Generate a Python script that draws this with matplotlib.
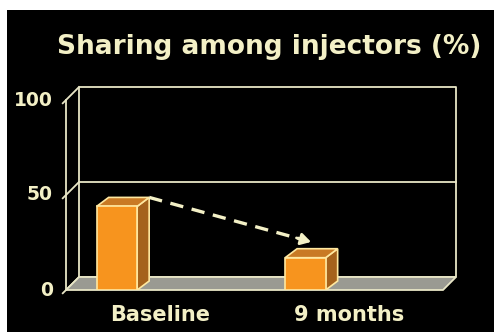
import matplotlib
matplotlib.use("Agg")
import matplotlib.pyplot as plt
from matplotlib.patches import Polygon, Rectangle
import matplotlib.transforms as mtransforms

# ---- data ----
categories = ["Baseline", "9 months"]
values = [44, 17]
y_ticks = [0, 50, 100]
y_tick_labels = ["0", "50", "100"]
title = "Sharing among injectors (%)"

# ---- style ----
W, H, DPI = 494, 332, 100
CREAM = "#f3f0c6"
LINE = "#e8e6c6"
ORANGE = "#f7941e"
SIDE = "#a5621c"
TOP = "#c97a24"
EDGE = "#ffe8a0"
FLOOR = "#9a9a92"
FONT = "DejaVu Sans"

fig = plt.figure(figsize=(W / DPI, H / DPI), dpi=DPI, facecolor="white")
fig.patches.append(Rectangle((7 / W, 0), 1 - 7 / W, (H - 10) / H,
                             transform=fig.transFigure, facecolor="black",
                             edgecolor="none", zorder=-10))

ax_l, ax_r, ax_b, ax_t = 66, 443, 290, 100   # pixel frame of the front plane
ax = fig.add_axes([ax_l / W, (H - ax_b) / H, (ax_r - ax_l) / W, (ax_b - ax_t) / H])
ax.set_zorder(5)
ax.set_facecolor("none")
ax.set_axis_off()
x0, x1 = -0.5, len(categories) - 0.5
ax.set_xlim(x0, x1)
ax.set_ylim(0, 100)

# pixel -> data conversions for depth offsets
px_x = (x1 - x0) / (ax_r - ax_l)
px_y = 100 / (ax_b - ax_t)
DX, DY = 13 * px_x, 13 * px_y        # wall depth
BDX, BDY = 12 * px_x, 9 * px_y       # bar depth
LW = 1.3

# back wall
bx = [x0 + DX, x1 + DX, x1 + DX, x0 + DX, x0 + DX]
by = [DY, DY, 100 + DY, 100 + DY, DY]
ax.plot(bx, by, color=LINE, lw=LW, zorder=1, clip_on=False)
for t in y_ticks[1:-1]:
    ax.plot([x0 + DX, x1 + DX], [t + DY, t + DY], color=LINE, lw=LW, zorder=1, clip_on=False)

# left wall edge and diagonal ticks
ax.plot([x0, x0], [0, 100], color=LINE, lw=LW, zorder=1, clip_on=False)
for t in y_ticks:
    ax.plot([x0 - 0.25 * DX, x0 + DX], [t - 0.25 * DY, t + DY], color=LINE, lw=LW,
            zorder=1, clip_on=False)

# floor
floor = Polygon([(x0, 0), (x1, 0), (x1 + DX, DY), (x0 + DX, DY)], closed=True,
                facecolor=FLOOR, edgecolor=LINE, lw=LW, zorder=2, clip_on=False)
ax.add_patch(floor)

# bars (front face with the library's bar, plus side & top faces)
offset, width = -0.23, 0.215
xs = [i + offset for i in range(len(categories))]
ax.bar(xs, values, width=width, color=ORANGE, edgecolor=EDGE, linewidth=1.2, zorder=4)
for c, v in zip(xs, values):
    l, r = c - width / 2, c + width / 2
    side = Polygon([(r, 0), (r + BDX, BDY), (r + BDX, v + BDY), (r, v)], closed=True,
                   facecolor=SIDE, edgecolor=EDGE, lw=1.2, zorder=3)
    top = Polygon([(l, v), (r, v), (r + BDX, v + BDY), (l + BDX, v + BDY)], closed=True,
                  facecolor=TOP, edgecolor=EDGE, lw=1.2, zorder=3)
    ax.add_patch(side)
    ax.add_patch(top)

# dashed arrow between bars
sx, sy = xs[0] + width / 2 + BDX, values[0] + BDY
ex, ey = xs[1] + 0.03, values[1] + 8.3
hx, hy = sx + (ex - sx) * 0.93, sy + (ey - sy) * 0.93
ax.plot([sx, hx], [sy, hy], color=CREAM, lw=2.4, dashes=(4, 2.6), zorder=5,
        solid_capstyle="butt", dash_capstyle="butt")
ax.annotate("", xy=(ex, ey), xytext=(hx - (ex - sx) * 0.02, hy - (ey - sy) * 0.02),
            arrowprops=dict(arrowstyle="-|>,head_length=0.6,head_width=0.35",
                            color=CREAM, lw=2.0, shrinkA=0, shrinkB=0), zorder=5)

# tick labels
ytrans = mtransforms.blended_transform_factory(ax.transAxes, ax.transData)
for t, lab in zip(y_ticks, y_tick_labels):
    ax.text((53 - ax_l) / (ax_r - ax_l), t, lab, transform=ytrans, ha="right", va="center",
            color=CREAM, fontsize=13.5, fontweight="bold", family=FONT)

xtrans = mtransforms.blended_transform_factory(ax.transData, ax.transAxes)
for i, cat in enumerate(categories):
    ax.text(i, (ax_b - 315) / (ax_b - ax_t), cat, transform=xtrans, ha="center", va="center",
            color=CREAM, fontsize=15, fontweight="bold", family=FONT)

fig.text(269 / W, (H - 47) / H, title, ha="center", va="center", color=CREAM,
         fontsize=19, fontweight="bold", family=FONT)

fig.savefig("out.png", dpi=DPI, facecolor=fig.get_facecolor())
